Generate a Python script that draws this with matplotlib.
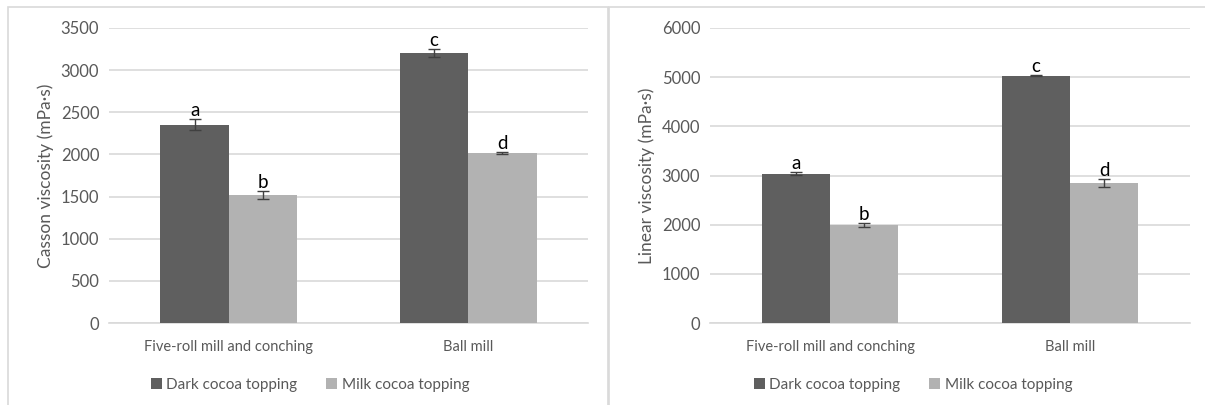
import numpy as np
import matplotlib.pyplot as plt
from matplotlib.patches import Rectangle

plt.rcParams['font.family'] = ['Lato', 'DejaVu Sans']

categories = ["Five-roll mill and conching", "Ball mill"]
series = ["Dark cocoa topping", "Milk cocoa topping"]

# Casson viscosity (mPa·s)
casson_dark = [2355, 3205]
casson_milk = [1518, 2018]
casson_dark_err = [60, 50]
casson_milk_err = [45, 12]
casson_letters = [["a", "c"], ["b", "d"]]

# Linear viscosity (mPa·s)
linear_dark = [3040, 5030]
linear_milk = [2000, 2855]
linear_dark_err = [22, 12]
linear_milk_err = [40, 80]
linear_letters = [["a", "c"], ["b", "d"]]

dark_col = "#5f5f5f"
light_col = "#b2b2b2"
text_col = "#595959"
grid_col = "#d9d9d9"

fig = plt.figure(figsize=(12.05, 4.05), dpi=100)

# panel frames
fig.add_artist(Rectangle((8 / 1205, -0.1), 600 / 1205, 1.1 - 7 / 405,
                         transform=fig.transFigure, fill=False,
                         edgecolor=grid_col, lw=1.2))
fig.add_artist(Rectangle((609 / 1205, -0.1), 600 / 1205, 1.1 - 7 / 405,
                         transform=fig.transFigure, fill=False,
                         edgecolor=grid_col, lw=1.2))


def panel(rect, dark, milk, dark_err, milk_err, letters, ymax, step, ylabel, leg_x):
    ax = fig.add_axes(rect)
    x = np.arange(len(categories))
    w = 0.285
    ax.bar(x - w / 2, dark, w, color=dark_col, label=series[0], zorder=3)
    ax.bar(x + w / 2, milk, w, color=light_col, label=series[1], zorder=3)
    ax.errorbar(x - w / 2, dark, yerr=dark_err, fmt="none", ecolor="#404040",
                elinewidth=1, capsize=4, capthick=1, zorder=4)
    ax.errorbar(x + w / 2, milk, yerr=milk_err, fmt="none", ecolor="#404040",
                elinewidth=1, capsize=4, capthick=1, zorder=4)
    for i in range(len(categories)):
        ax.text(x[i] - w / 2, dark[i] + dark_err[i], letters[0][i],
                ha="center", va="bottom", fontsize=13.5, color="black", zorder=5)
        ax.text(x[i] + w / 2, milk[i] + milk_err[i], letters[1][i],
                ha="center", va="bottom", fontsize=13.5, color="black", zorder=5)
    ax.set_xlim(-0.5, len(categories) - 0.5)
    ax.set_ylim(0, ymax)
    ax.set_yticks(np.arange(0, ymax + 1, step))
    ax.set_xticks(x)
    ax.set_xticklabels(categories)
    ax.yaxis.grid(True, color=grid_col, lw=1.2, zorder=0)
    for s in ["top", "right", "left"]:
        ax.spines[s].set_visible(False)
    ax.spines["bottom"].set_color(grid_col)
    ax.spines["bottom"].set_linewidth(1.2)
    ax.tick_params(length=0, colors=text_col, labelsize=12)
    ax.tick_params(axis="x", pad=12, labelsize=10.5)
    ax.tick_params(axis="y", pad=7)
    ax.set_ylabel(ylabel, color=text_col, fontsize=12.5, labelpad=5)
    ax.legend(loc="upper center", bbox_to_anchor=(leg_x, -0.14), ncol=2,
              frameon=False, fontsize=11, labelcolor=text_col,
              handlelength=0.7, handleheight=0.7, handletextpad=0.3,
              columnspacing=1.9)
    return ax


panel([109 / 1205, 1 - 323 / 405, 479 / 1205, 295 / 405],
      casson_dark, casson_milk, casson_dark_err, casson_milk_err,
      casson_letters, 3500, 500, "Casson viscosity (mPa·s)", 0.42)
panel([710 / 1205, 1 - 323 / 405, 480 / 1205, 295 / 405],
      linear_dark, linear_milk, linear_dark_err, linear_milk_err,
      linear_letters, 6000, 1000, "Linear viscosity (mPa·s)", 0.423)

plt.savefig("out.png", dpi=100)
